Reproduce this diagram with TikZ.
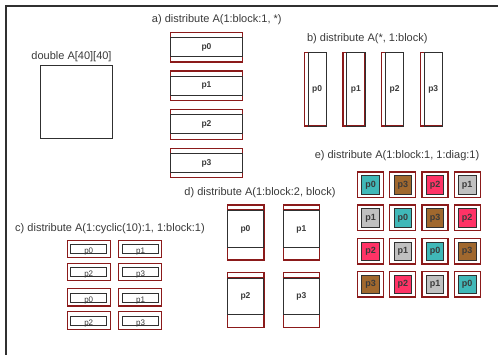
\documentclass[tikz,border=0pt]{standalone}
\usepackage{fontspec}
\setmainfont{Liberation Sans}
\definecolor{rb}{HTML}{8B1A1A}
\definecolor{bk}{HTML}{303030}
\definecolor{tx}{HTML}{3A3A3A}
\definecolor{cteal}{HTML}{40B8B8}
\definecolor{cbrown}{HTML}{A0682E}
\definecolor{cpink}{HTML}{FF3366}
\definecolor{cgray}{HTML}{C0C0C0}
\tikzset{
  redbox/.style={draw=rb, line width=1.2pt, inner sep=0pt, fill=none},
  blkbox/.style={draw=bk, line width=1pt, inner sep=0pt, text=tx, font=\fontsize{8.5}{9}\selectfont\bfseries},
  cbox/.style={draw=bk, line width=0.9pt, inner xsep=0pt, inner ysep=0pt, text=tx, font=\fontsize{8}{8}\selectfont, minimum width=36pt, text height=9pt, text depth=0pt},
  ecell/.style={draw=bk, line width=0.9pt, inner sep=0pt, minimum width=17.6pt, minimum height=18.3pt, text=tx, font=\fontsize{9}{10}\selectfont\bfseries},
  title/.style={text=tx, font=\fontsize{11}{12}\selectfont, inner sep=0pt}
}
\begin{document}
\begin{tikzpicture}[x=1pt,y=-1pt]
\useasboundingbox (0,0) rectangle (498,354);
\fill[white] (0,0) rectangle (498,354);
\begin{scope}
\clip (0,0) rectangle (498,354);
\draw[bk, line width=1.2pt] (6,6) rectangle (530,380);
\end{scope}

% original array
\node[title] (tA) at (71.5,56.7) {double A[40][40]};
\node[draw=bk, line width=1pt, minimum width=71.6pt, minimum height=73.3pt, inner sep=0pt] (A) at (76.5,102.3) {};

% a)
\node[title] (ta) at (216.8,20) {a) distribute A(1:block:1, *)};
\foreach \i/\y in {0/47.2,1/85.85,2/124.3,3/163}{
  \node[redbox, minimum width=71.6pt, minimum height=29.7pt] (ar\i) at (206.5,\y) {};
  \node[blkbox, minimum width=71.6pt, minimum height=19pt] (a\i) at (206.5,\y) {p\i};
}

% b)
\node[title] (tb) at (367.3,38.3) {b) distribute A(*, 1:block)};
\foreach \i in {0,1,2,3}{
  \pgfmathsetmacro{\xl}{304.3+38.7*\i}
  \node[redbox, minimum width=22pt, minimum height=73.7pt] (br\i) at (\xl+11,89.15) {};
  \node[blkbox, minimum width=18.3pt, minimum height=73.7pt] (b\i) at (\xl+12.85,89.15) {p\i};
}

% c)
\node[title] (tc) at (110,228.3) {c) distribute A(1:cyclic(10):1, 1:block:1)};
\foreach \r/\y/\pa/\pb in {0/248.85/0/1,1/271.85/2/3,2/297.15/0/1,3/320.35/2/3}{
  \node[redbox, minimum width=43.4pt, minimum height=17.5pt] (cr\r a) at (89,\y) {};
  \node[cbox] (c\r a) at (88.7,\y+0.5) {p\pa};
  \node[redbox, minimum width=43pt, minimum height=17.5pt] (cr\r b) at (140.2,\y) {};
  \node[cbox] (c\r b) at (140.6,\y+0.5) {p\pb};
}

% d)
\node[title] (td) at (260,192.3) {d) distribute A(1:block:2, block)};
\foreach \r/\yr/\yb/\pa/\pb in {0/232.5/229/0/1,1/300.35/296.65/2/3}{
  \node[redbox, minimum width=36.3pt, minimum height=55pt] (dr\r a) at (245.85,\yr) {};
  \draw[rb, line width=1pt] (dr\r a.north west) ++(0,5) -- ++(36.3,0);
  \node[blkbox, minimum width=35.6pt, minimum height=36.6pt] (d\r a) at (245.5,\yb) {p\pa};
  \node[redbox, minimum width=36pt, minimum height=55pt] (dr\r b) at (301.3,\yr) {};
  \draw[rb, line width=1pt] (dr\r b.north west) ++(0,5) -- ++(36,0);
  \node[blkbox, minimum width=36pt, minimum height=36.6pt] (d\r b) at (301.3,\yb) {p\pb};
}

% e)
\node[title] (te) at (397,156) {e) distribute A(1:block:1, 1:diag:1)};
\foreach \r/\y in {0/184.85,1/217.85,2/251.15,3/284.15}{
  \foreach \c/\x in {0/370.6,1/402.8,2/435,3/467.2}{
    \pgfmathtruncatemacro{\p}{mod(\c-\r+4,4)}
    \pgfmathtruncatemacro{\q}{mod(4-\p,4)}
    \ifcase\q \def\cc{cteal}\or\def\cc{cgray}\or\def\cc{cpink}\or\def\cc{cbrown}\fi
    \node[redbox, minimum width=26pt, minimum height=25.7pt] (er\r\c) at (\x,\y) {};
    \node[ecell, fill=\cc] (e\r\c) at (\x,\y) {p\q};
  }
}
\end{tikzpicture}
\end{document}
